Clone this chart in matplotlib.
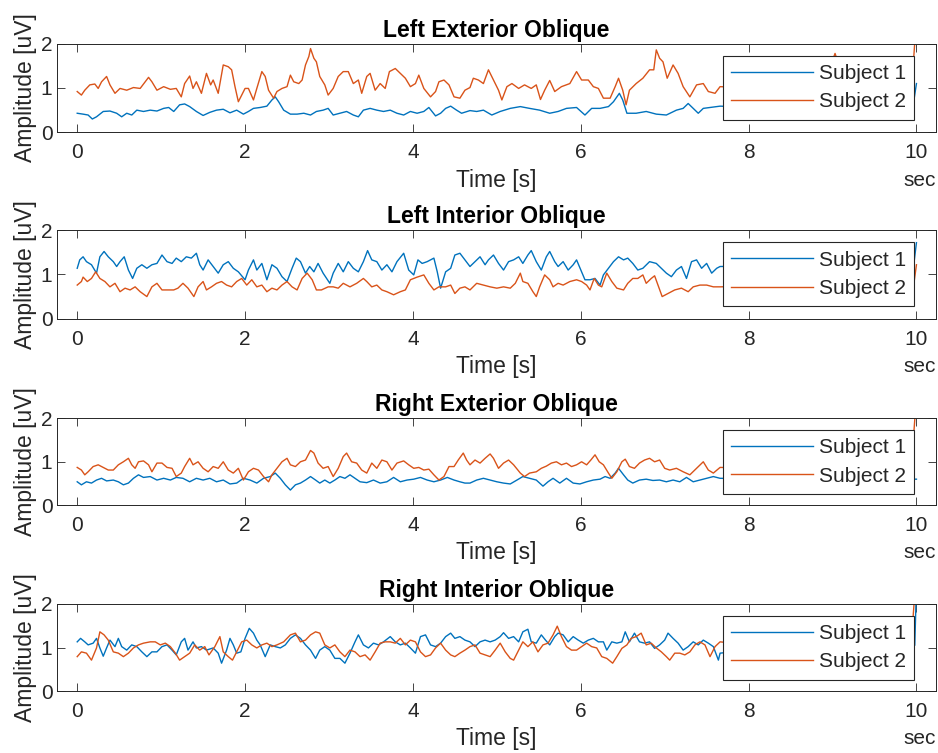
import matplotlib
matplotlib.use('Agg')
import matplotlib.pyplot as plt

plt.rcParams['font.family'] = ['Liberation Sans', 'DejaVu Sans']

TEXT = '#262626'
BLUE = '#0072BD'
ORANGE = '#D95319'

# Left Exterior Oblique
leo_t1 = [0.00, 0.07, 0.13, 0.18, 0.23, 0.31, 0.39, 0.47, 0.53, 0.59,
          0.65, 0.71, 0.79, 0.87, 0.95, 1.03, 1.09, 1.15, 1.22, 1.28,
          1.34, 1.42, 1.50, 1.58, 1.66, 1.74, 1.82, 1.90, 1.98, 2.04,
          2.10, 2.18, 2.26, 2.32, 2.36, 2.40, 2.46, 2.54, 2.62, 2.70,
          2.78, 2.85, 2.93, 2.99, 3.05, 3.13, 3.21, 3.29, 3.35, 3.41,
          3.49, 3.57, 3.65, 3.73, 3.81, 3.89, 3.97, 4.05, 4.13, 4.19,
          4.27, 4.33, 4.39, 4.45, 4.52, 4.58,
          4.68, 4.76, 4.84, 4.94, 5.04, 5.16, 5.28, 5.39, 5.51, 5.63,
          5.73, 5.83, 5.95, 6.05, 6.13, 6.23, 6.33, 6.39, 6.46, 6.50,
          6.55, 6.66, 6.78, 6.90, 7.02, 7.14, 7.22, 7.28, 7.34, 7.40,
          7.46, 7.54, 7.66,
          8.30, 9.00, 9.60, 9.96, 10.00]
leo_s1 = [0.43, 0.41, 0.39, 0.30, 0.35, 0.47, 0.48, 0.43, 0.35, 0.43,
          0.39, 0.50, 0.47, 0.50, 0.48, 0.54, 0.56, 0.47, 0.62, 0.64,
          0.58, 0.47, 0.38, 0.45, 0.50, 0.52, 0.44, 0.50, 0.41, 0.47,
          0.54, 0.56, 0.59, 0.73, 0.80, 0.69, 0.50, 0.41, 0.41, 0.43,
          0.39, 0.47, 0.50, 0.54, 0.39, 0.43, 0.47, 0.39, 0.35, 0.50,
          0.54, 0.50, 0.47, 0.50, 0.43, 0.39, 0.47, 0.43, 0.47, 0.56,
          0.37, 0.43, 0.54, 0.59, 0.50, 0.43,
          0.49, 0.47, 0.50, 0.39, 0.47, 0.54, 0.58, 0.54, 0.50, 0.43,
          0.47, 0.54, 0.56, 0.39, 0.54, 0.54, 0.58, 0.69, 0.88, 0.73,
          0.43, 0.43, 0.47, 0.41, 0.39, 0.50, 0.54, 0.65, 0.54, 0.43,
          0.54, 0.56, 0.59,
          0.55, 0.50, 0.55, 0.60, 1.10]
leo_t2 = [0.00, 0.05, 0.09, 0.15, 0.21, 0.25, 0.29, 0.35, 0.39, 0.45,
          0.51, 0.59, 0.67, 0.75, 0.85, 0.89, 0.95, 1.03, 1.11, 1.18,
          1.24, 1.28, 1.34, 1.38, 1.42, 1.48, 1.54, 1.59, 1.62, 1.68,
          1.74, 1.80, 1.84, 1.88, 1.92, 1.96, 2.00, 2.04, 2.10, 2.14,
          2.20, 2.24, 2.28, 2.34, 2.38, 2.44, 2.50, 2.54, 2.58, 2.64,
          2.68, 2.72, 2.76, 2.78, 2.82, 2.85, 2.89, 2.95, 2.99, 3.05,
          3.11, 3.17, 3.23, 3.29, 3.35, 3.39, 3.45, 3.49, 3.55, 3.61,
          3.67, 3.72, 3.79, 3.85, 3.91, 3.97, 4.03, 4.07, 4.13, 4.21,
          4.27, 4.31, 4.37, 4.43, 4.49, 4.56, 4.62,
          4.68, 4.72, 4.78, 4.84, 4.90, 4.96, 5.02, 5.06, 5.12, 5.18,
          5.26, 5.33, 5.41, 5.47, 5.52, 5.57, 5.63, 5.69, 5.77, 5.87,
          5.95, 6.01, 6.09, 6.15, 6.21, 6.27, 6.35, 6.41, 6.45, 6.50,
          6.54, 6.58, 6.66, 6.74, 6.82, 6.87, 6.90, 6.94, 6.98, 7.03,
          7.10, 7.16, 7.22, 7.30, 7.38, 7.46, 7.52, 7.60, 7.66,
          8.10, 8.60, 8.90, 9.03, 9.15, 9.50, 9.94, 9.97, 10.00]
leo_s2 = [0.92, 0.84, 0.95, 1.07, 1.09, 0.99, 1.14, 1.26, 1.07, 0.88,
          0.99, 0.95, 1.01, 0.99, 1.24, 1.14, 0.95, 1.03, 0.97, 0.99,
          0.80, 1.10, 1.27, 0.99, 1.14, 0.88, 1.33, 1.07, 1.18, 0.88,
          1.52, 1.48, 1.41, 1.03, 0.69, 0.84, 0.99, 0.99, 0.73, 0.99,
          1.37, 1.26, 0.95, 0.77, 0.92, 0.99, 1.03, 1.29, 1.14, 1.10,
          1.18, 1.52, 1.71, 1.89, 1.67, 1.59, 1.26, 1.07, 0.84, 0.99,
          1.26, 1.37, 1.37, 1.10, 1.18, 0.88, 1.26, 1.33, 0.95, 1.10,
          0.99, 1.37, 1.44, 1.33, 1.22, 1.03, 1.10, 1.29, 0.99, 0.80,
          0.92, 1.14, 1.18, 1.07, 0.80, 0.77, 0.95,
          1.01, 1.22, 1.18, 1.10, 1.41, 1.18, 0.95, 0.73, 1.03, 1.10,
          0.99, 1.07, 0.99, 1.07, 0.74, 0.95, 1.17, 0.92, 1.03, 1.10,
          1.37, 1.18, 1.18, 1.03, 0.99, 0.77, 0.77, 1.03, 1.22, 0.95,
          0.62, 0.95, 1.10, 1.22, 1.41, 1.41, 1.86, 1.67, 1.59, 1.22,
          1.52, 1.33, 1.03, 0.80, 1.07, 1.10, 0.92, 0.88, 1.03,
          1.00, 0.95, 1.10, 1.78, 1.10, 1.00, 1.05, 1.75, 2.60]

# Left Interior Oblique
lio_t1 = [0.00, 0.03, 0.07, 0.11, 0.17, 0.23, 0.27, 0.32, 0.37, 0.43,
          0.47, 0.51, 0.56, 0.61, 0.66, 0.71, 0.77, 0.83, 0.89, 0.95,
          1.01, 1.07, 1.13, 1.18, 1.24, 1.30, 1.36, 1.42, 1.46, 1.50,
          1.56, 1.62, 1.68, 1.74, 1.80, 1.86, 1.92, 2.00, 2.04, 2.10,
          2.14, 2.20, 2.26, 2.32, 2.38, 2.44, 2.50, 2.56, 2.61, 2.66,
          2.72, 2.77, 2.82, 2.87, 2.93, 3.01, 3.05, 3.11, 3.17, 3.23,
          3.29, 3.35, 3.41, 3.46, 3.51, 3.57, 3.63, 3.69, 3.75, 3.81,
          3.89, 3.95, 4.01, 4.06, 4.11, 4.17, 4.25, 4.29, 4.33, 4.39,
          4.45, 4.50, 4.56, 4.62,
          4.68, 4.74, 4.80, 4.86, 4.90, 4.96, 5.02, 5.08, 5.14, 5.20,
          5.26, 5.31, 5.37, 5.41, 5.47, 5.53, 5.59, 5.63, 5.69, 5.73,
          5.79, 5.85, 5.91, 5.95, 6.01, 6.05, 6.11, 6.17, 6.23, 6.27,
          6.33, 6.39, 6.45, 6.51, 6.56, 6.62, 6.68, 6.74, 6.82, 6.90,
          6.96, 7.02, 7.08, 7.14, 7.20, 7.26, 7.32, 7.38, 7.44, 7.50,
          7.56, 7.62, 7.66,
          8.30, 9.00, 9.60, 9.97, 10.00]
lio_s1 = [1.14, 1.33, 1.40, 1.29, 1.22, 1.03, 1.40, 1.52, 1.40, 1.29,
          1.18, 1.29, 1.40, 1.10, 0.91, 1.14, 1.22, 1.14, 1.22, 1.25,
          1.44, 1.29, 1.25, 1.37, 1.29, 1.40, 1.37, 1.48, 1.22, 1.10,
          1.33, 1.18, 1.03, 1.22, 1.29, 1.14, 1.06, 0.88, 1.10, 1.33,
          1.10, 1.25, 0.88, 1.22, 1.14, 0.95, 0.84, 1.14, 1.37, 1.29,
          1.03, 1.18, 1.06, 1.25, 1.03, 0.80, 1.03, 1.25, 1.06, 1.29,
          1.14, 1.06, 1.29, 1.54, 1.33, 1.29, 1.10, 1.22, 1.06, 1.29,
          1.48, 1.10, 0.99, 1.33, 1.25, 1.29, 1.37, 1.06, 0.69, 1.06,
          1.14, 1.44, 1.48, 1.33,
          1.18, 1.29, 1.40, 1.22, 1.33, 1.44, 1.25, 1.10, 1.29, 1.33,
          1.40, 1.25, 1.44, 1.54, 1.29, 1.10, 1.40, 1.52, 1.29, 1.18,
          1.29, 1.10, 1.22, 1.33, 1.06, 0.88, 0.88, 0.91, 0.76, 0.99,
          1.14, 1.29, 1.40, 1.33, 1.37, 1.25, 1.10, 1.14, 1.29, 1.25,
          1.14, 1.03, 0.95, 1.10, 1.18, 0.91, 1.29, 1.33, 1.14, 1.25,
          1.03, 1.14, 1.18,
          1.20, 1.15, 1.20, 1.25, 1.72]
lio_t2 = [0.00, 0.05, 0.07, 0.12, 0.17, 0.22, 0.27, 0.33, 0.39, 0.45,
          0.51, 0.57, 0.63, 0.69, 0.75, 0.83, 0.89, 0.95, 1.01, 1.07,
          1.15, 1.20, 1.26, 1.32, 1.39, 1.44, 1.50, 1.54, 1.60, 1.66,
          1.72, 1.78, 1.84, 1.90, 1.96, 2.02, 2.08, 2.14, 2.20, 2.26,
          2.32, 2.38, 2.44, 2.50, 2.56, 2.62, 2.68, 2.74, 2.80, 2.85,
          2.91, 2.99, 3.05, 3.11, 3.17, 3.25, 3.33, 3.41, 3.45, 3.51,
          3.57, 3.63, 3.69, 3.77, 3.85, 3.91, 3.97, 4.05, 4.13, 4.19,
          4.25, 4.31, 4.39, 4.45, 4.50, 4.56, 4.62,
          4.68, 4.76, 4.84, 4.92, 5.00, 5.08, 5.16, 5.22, 5.28, 5.31,
          5.37, 5.43, 5.47, 5.51, 5.57, 5.63, 5.67, 5.73, 5.79, 5.87,
          5.95, 6.01, 6.07, 6.11, 6.16, 6.21, 6.25, 6.31, 6.37, 6.43,
          6.51, 6.56, 6.62, 6.68, 6.74, 6.78, 6.84, 6.88, 6.92, 6.97,
          7.04, 7.12, 7.20, 7.28, 7.34, 7.42, 7.50, 7.58, 7.66,
          8.30, 9.00, 9.60, 9.97, 10.00]
lio_s2 = [0.76, 0.84, 0.94, 0.84, 0.91, 1.06, 0.91, 0.84, 0.72, 0.80,
          0.61, 0.69, 0.65, 0.72, 0.61, 0.50, 0.72, 0.80, 0.65, 0.65,
          0.65, 0.69, 0.80, 0.69, 0.50, 0.72, 0.84, 0.65, 0.72, 0.80,
          0.84, 0.76, 0.72, 0.84, 0.91, 0.76, 0.88, 0.72, 0.76, 0.61,
          0.69, 0.65, 0.76, 0.84, 0.72, 0.65, 0.91, 1.03, 0.88, 0.65,
          0.65, 0.72, 0.72, 0.69, 0.80, 0.72, 0.80, 0.91, 0.84, 0.72,
          0.76, 0.65, 0.61, 0.54, 0.61, 0.65, 0.88, 0.94, 0.99, 0.80,
          0.65, 0.72, 0.72, 0.76, 0.57, 0.69, 0.72,
          0.65, 0.80, 0.76, 0.72, 0.69, 0.72, 0.69, 0.80, 1.03, 0.84,
          0.80, 0.61, 0.50, 0.72, 0.99, 0.88, 0.72, 0.80, 0.76, 0.84,
          0.88, 0.84, 0.76, 0.65, 0.91, 0.76, 0.72, 1.03, 0.84, 0.69,
          0.65, 0.80, 0.91, 0.91, 0.99, 0.80, 0.91, 0.97, 0.76, 0.50,
          0.57, 0.65, 0.69, 0.61, 0.72, 0.76, 0.76, 0.72, 0.72,
          0.75, 0.70, 0.75, 0.80, 1.22]

# Right Exterior Oblique
reo_t1 = [0.00, 0.05, 0.11, 0.17, 0.23, 0.29, 0.35, 0.43, 0.49, 0.55,
          0.61, 0.67, 0.73, 0.79, 0.87, 0.95, 1.03, 1.11, 1.18, 1.26,
          1.34, 1.42, 1.50, 1.58, 1.66, 1.74, 1.82, 1.90, 1.98, 2.06,
          2.14, 2.22, 2.30, 2.36, 2.42, 2.48, 2.54, 2.60, 2.66, 2.72,
          2.78, 2.84, 2.89, 2.95, 3.01, 3.07, 3.13, 3.19, 3.25, 3.31,
          3.37, 3.45, 3.53, 3.61, 3.69, 3.77, 3.85, 3.93, 4.01, 4.09,
          4.17, 4.25, 4.33, 4.41, 4.49, 4.56, 4.62,
          4.68, 4.76, 4.84, 4.92, 5.00, 5.08, 5.16, 5.24, 5.31, 5.39,
          5.47, 5.55, 5.61, 5.67, 5.75, 5.83, 5.91, 5.99, 6.07, 6.15,
          6.23, 6.29, 6.35, 6.41, 6.45, 6.51, 6.56, 6.62, 6.70, 6.78,
          6.86, 6.94, 7.02, 7.10, 7.18, 7.26, 7.34, 7.42, 7.50, 7.58,
          7.66,
          8.30, 9.00, 9.60, 10.00]
reo_s1 = [0.54, 0.47, 0.54, 0.51, 0.58, 0.62, 0.56, 0.58, 0.54, 0.47,
          0.51, 0.62, 0.70, 0.64, 0.66, 0.58, 0.62, 0.58, 0.64, 0.62,
          0.54, 0.62, 0.58, 0.62, 0.54, 0.58, 0.49, 0.51, 0.62, 0.58,
          0.51, 0.62, 0.66, 0.74, 0.62, 0.47, 0.35, 0.47, 0.51, 0.58,
          0.66, 0.58, 0.51, 0.58, 0.51, 0.58, 0.66, 0.62, 0.70, 0.62,
          0.54, 0.52, 0.58, 0.51, 0.54, 0.64, 0.54, 0.58, 0.60, 0.64,
          0.58, 0.54, 0.58, 0.64, 0.58, 0.54, 0.51,
          0.51, 0.58, 0.62, 0.58, 0.54, 0.51, 0.49, 0.58, 0.66, 0.62,
          0.58, 0.44, 0.54, 0.62, 0.51, 0.62, 0.51, 0.49, 0.54, 0.58,
          0.60, 0.66, 0.62, 0.74, 0.85, 0.70, 0.58, 0.51, 0.58, 0.60,
          0.57, 0.58, 0.54, 0.58, 0.54, 0.64, 0.54, 0.58, 0.62, 0.66,
          0.62,
          0.60, 0.58, 0.60, 0.60]
reo_t2 = [0.00, 0.05, 0.09, 0.13, 0.19, 0.25, 0.31, 0.37, 0.43, 0.49,
          0.55, 0.61, 0.65, 0.69, 0.73, 0.79, 0.85, 0.89, 0.95, 1.01,
          1.07, 1.13, 1.18, 1.24, 1.28, 1.34, 1.38, 1.44, 1.50, 1.56,
          1.62, 1.68, 1.74, 1.80, 1.86, 1.92, 1.98, 2.04, 2.10, 2.16,
          2.22, 2.28, 2.32, 2.38, 2.44, 2.50, 2.54, 2.60, 2.66, 2.72,
          2.78, 2.82, 2.87, 2.93, 2.99, 3.05, 3.11, 3.17, 3.21, 3.27,
          3.33, 3.39, 3.45, 3.51, 3.57, 3.63, 3.69, 3.75, 3.81, 3.89,
          3.95, 4.01, 4.07, 4.13, 4.19, 4.25, 4.31, 4.37, 4.43, 4.49,
          4.54, 4.60, 4.64,
          4.68, 4.74, 4.80, 4.86, 4.92, 4.96, 5.02, 5.08, 5.14, 5.20,
          5.28, 5.33, 5.39, 5.47, 5.53, 5.59, 5.65, 5.71, 5.77, 5.83,
          5.89, 5.95, 6.01, 6.07, 6.12, 6.17, 6.22, 6.27, 6.33, 6.37,
          6.43, 6.49, 6.53, 6.58, 6.64, 6.70, 6.76, 6.82, 6.88, 6.94,
          7.00, 7.06, 7.14, 7.22, 7.30, 7.38, 7.46, 7.52, 7.58, 7.66,
          8.30, 9.00, 9.60, 9.94, 9.97, 10.00]
reo_s2 = [0.87, 0.81, 0.70, 0.77, 0.89, 0.93, 0.87, 0.81, 0.81, 0.93,
          1.00, 1.08, 0.93, 0.85, 1.00, 1.02, 0.93, 0.77, 0.97, 0.97,
          0.87, 0.85, 0.66, 0.74, 0.89, 1.08, 0.93, 1.00, 0.85, 0.77,
          0.89, 0.85, 1.00, 0.81, 0.74, 0.85, 0.58, 0.77, 0.85, 0.81,
          0.66, 0.54, 0.70, 0.85, 1.00, 1.08, 0.93, 0.89, 1.00, 1.04,
          1.26, 1.20, 0.97, 0.85, 0.89, 0.66, 0.85, 1.12, 1.20, 1.00,
          0.97, 0.81, 0.74, 0.97, 0.85, 1.04, 1.00, 0.81, 0.97, 1.02,
          0.93, 0.85, 0.87, 0.81, 0.83, 0.70, 0.58, 0.66, 0.89, 0.89,
          1.04, 1.20, 1.04,
          0.93, 1.04, 0.97, 1.08, 1.18, 1.08, 0.85, 0.97, 1.04, 0.93,
          0.74, 0.66, 0.74, 0.77, 0.85, 0.90, 0.97, 1.00, 0.93, 0.97,
          0.89, 0.93, 1.00, 0.93, 1.04, 1.16, 1.00, 0.93, 0.74, 0.62,
          0.77, 1.00, 1.06, 0.89, 0.85, 0.97, 1.04, 1.08, 1.00, 1.04,
          0.85, 0.81, 0.85, 0.77, 0.70, 0.85, 1.00, 0.81, 0.74, 0.87,
          0.85, 0.80, 0.85, 0.90, 1.70, 2.50]

# Right Interior Oblique
rio_t1 = [0.00, 0.04, 0.09, 0.13, 0.19, 0.23, 0.27, 0.31, 0.35, 0.39,
          0.45, 0.49, 0.53, 0.59, 0.65, 0.71, 0.77, 0.83, 0.89, 0.95,
          1.01, 1.07, 1.13, 1.18, 1.24, 1.28, 1.32, 1.38, 1.42, 1.48,
          1.54, 1.62, 1.68, 1.72, 1.78, 1.82, 1.86, 1.90, 1.95, 2.00,
          2.05, 2.10, 2.14, 2.18, 2.24, 2.30, 2.36, 2.42, 2.48, 2.54,
          2.60, 2.66, 2.72, 2.78, 2.84, 2.89, 2.95, 3.01, 3.07, 3.13,
          3.19, 3.25, 3.31, 3.35, 3.41, 3.47, 3.53, 3.59, 3.65, 3.73,
          3.79, 3.85, 3.91, 3.97, 4.03, 4.09, 4.15, 4.21, 4.27, 4.33,
          4.39, 4.45, 4.50, 4.56, 4.62,
          4.68, 4.74, 4.80, 4.86, 4.92, 4.98, 5.04, 5.08, 5.14, 5.20,
          5.26, 5.31, 5.37, 5.41, 5.47, 5.53, 5.58, 5.63, 5.69, 5.73,
          5.79, 5.85, 5.91, 5.97, 6.03, 6.09, 6.15, 6.21, 6.27, 6.31,
          6.37, 6.43, 6.49, 6.53, 6.58, 6.64, 6.70, 6.76, 6.82, 6.88,
          6.94, 7.00, 7.04, 7.10, 7.16, 7.22, 7.28, 7.34, 7.40, 7.46,
          7.52, 7.58, 7.64, 7.66,
          8.30, 9.00, 9.60, 9.98, 10.00]
rio_s1 = [1.13, 1.21, 1.13, 1.06, 1.10, 1.21, 0.99, 0.80, 0.99, 1.17,
          1.02, 1.21, 1.02, 0.94, 1.06, 1.02, 0.90, 0.79, 0.90, 0.90,
          1.02, 1.06, 0.94, 0.83, 1.13, 1.21, 0.94, 1.13, 0.99, 1.02,
          0.94, 0.99, 0.87, 0.64, 0.94, 1.21, 1.06, 0.87, 0.90, 1.21,
          1.44, 1.33, 1.17, 1.06, 0.79, 1.06, 1.02, 0.99, 1.06, 1.21,
          1.29, 1.21, 1.06, 0.94, 0.75, 0.94, 1.02, 0.94, 0.75, 0.75,
          0.64, 0.87, 1.13, 1.29, 1.06, 0.99, 1.10, 1.06, 1.13, 1.25,
          1.13, 1.06, 1.10, 0.99, 0.87, 1.25, 1.29, 1.06, 1.02, 1.10,
          1.25, 1.33, 1.21, 1.25, 1.17,
          1.13, 1.02, 1.13, 1.17, 1.13, 1.17, 1.25, 1.34, 1.21, 1.25,
          1.13, 1.36, 1.42, 1.13, 1.10, 1.29, 1.17, 1.06, 1.25, 1.33,
          1.29, 1.13, 1.25, 1.17, 1.10, 1.17, 1.21, 1.13, 1.13, 0.94,
          1.13, 1.10, 1.13, 1.36, 1.13, 1.33, 1.13, 1.10, 1.13, 0.98,
          1.06, 1.17, 1.33, 1.21, 1.10, 0.94, 1.02, 1.13, 1.06, 1.17,
          1.10, 1.02, 0.71, 0.87,
          1.00, 1.05, 1.00, 1.05, 2.40]
rio_t2 = [0.00, 0.05, 0.11, 0.17, 0.23, 0.27, 0.32, 0.37, 0.43, 0.49,
          0.55, 0.61, 0.67, 0.73, 0.79, 0.87, 0.93, 0.99, 1.05, 1.11,
          1.17, 1.22, 1.28, 1.34, 1.40, 1.46, 1.52, 1.57, 1.64, 1.70,
          1.74, 1.80, 1.85, 1.91, 1.96, 2.02, 2.08, 2.14, 2.20, 2.26,
          2.32, 2.38, 2.46, 2.54, 2.60, 2.66, 2.72, 2.78, 2.84, 2.89,
          2.95, 3.01, 3.07, 3.13, 3.19, 3.25, 3.31, 3.37, 3.43, 3.49,
          3.55, 3.61, 3.67, 3.73, 3.79, 3.85, 3.91, 3.97, 4.03, 4.09,
          4.15, 4.21, 4.27, 4.33, 4.39, 4.45, 4.50, 4.56, 4.62,
          4.68, 4.74, 4.80, 4.86, 4.92, 4.98, 5.04, 5.10, 5.16, 5.20,
          5.26, 5.31, 5.37, 5.43, 5.49, 5.55, 5.61, 5.67, 5.72, 5.77,
          5.83, 5.89, 5.95, 6.01, 6.07, 6.13, 6.19, 6.25, 6.31, 6.38,
          6.43, 6.49, 6.55, 6.60, 6.66, 6.72, 6.78, 6.84, 6.90, 6.96,
          7.02, 7.06, 7.12, 7.18, 7.24, 7.30, 7.36, 7.42, 7.48, 7.54,
          7.60, 7.66,
          8.30, 9.00, 9.60, 9.93, 9.96, 9.99]
rio_s2 = [0.79, 0.90, 0.87, 0.71, 0.99, 1.36, 1.29, 1.17, 0.90, 0.87,
          0.79, 0.87, 0.99, 1.06, 1.10, 1.13, 1.13, 1.06, 1.10, 1.02,
          0.87, 0.71, 0.79, 0.87, 1.06, 0.94, 1.02, 0.83, 1.02, 1.25,
          0.90, 0.79, 0.71, 0.94, 1.13, 1.17, 1.06, 0.99, 1.06, 1.10,
          1.02, 1.06, 1.13, 1.29, 1.33, 1.13, 1.17, 1.29, 1.36, 1.33,
          1.06, 0.99, 1.06, 0.90, 0.79, 0.94, 0.90, 0.79, 0.83, 0.71,
          0.90, 1.10, 1.13, 1.13, 1.10, 1.21, 1.06, 1.17, 1.13, 0.90,
          0.79, 0.83, 0.99, 1.10, 0.94, 0.83, 0.79, 0.87, 0.94,
          1.02, 1.06, 0.87, 0.83, 0.79, 0.94, 1.10, 0.90, 0.75, 0.71,
          0.94, 1.13, 1.02, 1.13, 0.90, 1.06, 1.10, 1.29, 1.49, 1.25,
          1.02, 0.94, 0.94, 1.02, 1.10, 1.02, 0.99, 0.79, 0.75, 0.64,
          0.79, 0.98, 1.06, 1.21, 1.25, 1.33, 1.06, 1.10, 0.99, 0.90,
          0.79, 0.71, 0.87, 0.87, 0.83, 0.90, 1.06, 1.13, 1.06, 0.79,
          1.02, 1.13,
          1.00, 0.95, 1.00, 1.05, 1.70, 2.50]

titles = ['Left Exterior Oblique', 'Left Interior Oblique',
          'Right Exterior Oblique', 'Right Interior Oblique']
series = [(leo_t1, leo_s1, leo_t2, leo_s2),
          (lio_t1, lio_s1, lio_t2, lio_s2),
          (reo_t1, reo_s1, reo_t2, reo_s2),
          (rio_t1, rio_s1, rio_t2, rio_s2)]
x_ticks = [0, 2, 4, 6, 8, 10]
y_ticks = [0, 1, 2]

# subplot rows: (bottom, height) in figure fraction
rows = [(0.8243, 0.1177), (0.5768, 0.1174), (0.3290, 0.1155), (0.0823, 0.1156)]

fig = plt.figure(figsize=(9.38, 7.53), dpi=100)

for title, (t1, s1, t2, s2), (bottom, height) in zip(titles, series, rows):
    assert len(t1) == len(s1) and len(t2) == len(s2)
    ax = fig.add_axes([0.0604, bottom, 0.9372, height])
    ax.plot(t1, s1, color=BLUE, lw=1.0, label='Subject 1')
    ax.plot(t2, s2, color=ORANGE, lw=1.0, label='Subject 2')
    ax.set_xlim(-0.245, 10.23)
    ax.set_ylim(0, 2)
    ax.set_xticks(x_ticks)
    ax.set_yticks(y_ticks)
    ax.tick_params(direction='in', top=True, right=True, length=5.5,
                   width=0.6, colors=TEXT, labelsize=15)
    ax.tick_params(axis='x', pad=8)
    ax.tick_params(axis='y', pad=3)
    for sp in ax.spines.values():
        sp.set_color(TEXT)
        sp.set_linewidth(0.7)

    ax.set_title(title, fontsize=16.5, fontweight='bold', pad=5)
    ax.set_xlabel('Time [s]', fontsize=16.5, color=TEXT)
    ax.xaxis.label.set_va('center')
    ax.xaxis.set_label_coords(0.5, -0.54)
    ax.set_ylabel('Amplitude [uV]', fontsize=16.5, color=TEXT)
    ax.yaxis.label.set_va('center')
    ax.yaxis.set_label_coords(-0.036, 0.5)
    ax.text(1.0, -0.54, 'sec', transform=ax.transAxes, ha='right',
            va='center', fontsize=15, color=TEXT)

    leg = ax.legend(loc='upper right', bbox_to_anchor=(0.9757, 0.8646),
                    borderaxespad=0, fontsize=15, handlelength=3.9,
                    handletextpad=0.3, borderpad=0.4, labelspacing=0.45,
                    fancybox=False, framealpha=1, edgecolor=TEXT)
    leg.get_frame().set_linewidth(0.8)
    for txt in leg.get_texts():
        txt.set_color(TEXT)

fig.savefig('out.png', dpi=100)
